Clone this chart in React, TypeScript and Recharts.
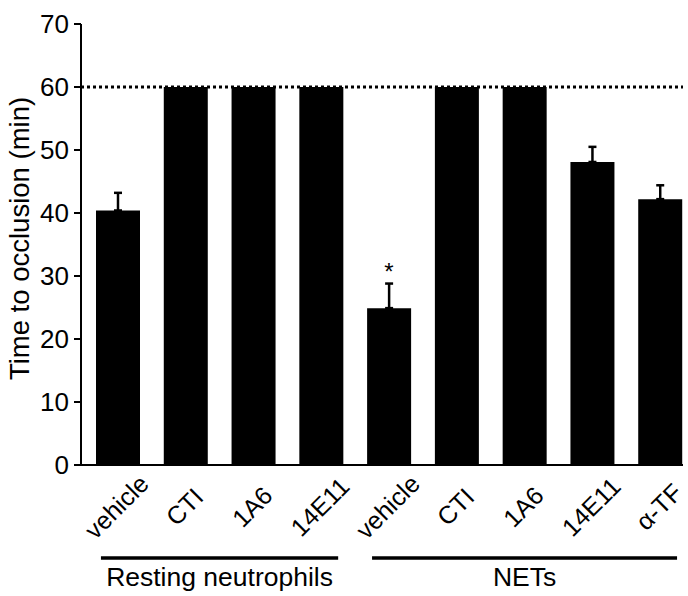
import React from 'react';
import { BarChart, Bar, XAxis, YAxis, ErrorBar, ReferenceLine, ReferenceDot } from 'recharts';

const keys = ['r-vehicle', 'r-CTI', 'r-1A6', 'r-14E11', 'n-vehicle', 'n-CTI', 'n-1A6', 'n-14E11', 'n-aTF'];
const tickLabels = ['vehicle', 'CTI', '1A6', '14E11', 'vehicle', 'CTI', '1A6', '14E11', 'α-TF'];
const means = [40.4, 60, 60, 60, 24.9, 60, 60, 48.1, 42.2];
const sems: (number | null)[] = [2.8, null, null, null, 3.9, null, null, 2.4, 2.2];
const yTicks = [0, 10, 20, 30, 40, 50, 60, 70];
const groups = [
  { label: 'Resting neutrophils', start: 0, count: 4 },
  { label: 'NETs', start: 4, count: 5 },
];
const cutoff = 60;
const sigIndex = 4;
const sigMark = '*';
const yLabel = 'Time to occlusion (min)';

const FONT = 'Liberation Sans, Arial, Helvetica, sans-serif';
const INK = '#000';

const data = keys.map((k, i) => ({
  key: k,
  mean: means[i],
  err: sems[i] == null ? null : [0, sems[i] as number],
}));

const XTick = (props: any) => {
  const { x, y, payload, index } = props;
  const i = payload?.index ?? index;
  const half = payload?.offset ?? 33.9;
  const band = half * 2;
  const lx = x + 5;
  const ly = y + 48;
  const g = groups.find((gr) => gr.start === i);
  let bracket = null;
  if (g) {
    const lastX = x + (g.count - 1) * band;
    const x1 = x - band * 0.25;
    const x2 = lastX + band * 0.25;
    const mid = (x + lastX) / 2;
    bracket = (
      <g>
        <line x1={x1} x2={x2} y1={y + 93} y2={y + 93} stroke={INK} strokeWidth={3.5} />
        <text x={mid} y={y + 121} textAnchor="middle" fontSize={26.5} fontFamily={FONT} fill={INK}>
          {g.label}
        </text>
      </g>
    );
  }
  return (
    <g>
      <text
        x={lx}
        y={ly}
        transform={`rotate(-45 ${lx} ${ly})`}
        textAnchor="middle"
        fontSize={25}
        fontFamily={FONT}
        fill={INK}
      >
        {tickLabels[i]}
      </text>
      {bracket}
    </g>
  );
};

const YLabel = (props: any) => {
  const vb = props.viewBox || { x: 0, y: 24, width: 81, height: 441 };
  const cx = vb.x + 29;
  const cy = vb.y + vb.height / 2 - 6;
  return (
    <text
      x={cx}
      y={cy}
      transform={`rotate(-90 ${cx} ${cy})`}
      textAnchor="middle"
      fontSize={27.5}
      fontFamily={FONT}
      fill={INK}
    >
      {yLabel}
    </text>
  );
};

export default function App() {
  return (
    <div style={{ position: 'absolute', left: 0, top: 0, width: 688, height: 596, background: '#fff', overflow: 'hidden' }}>
      <BarChart width={688} height={596} data={data} margin={{ top: 24, right: 5, left: 0, bottom: 0 }}>
        <XAxis
          dataKey="key"
          interval={0}
          height={131}
          tickLine={false}
          tickSize={0}
          tickMargin={0}
          padding={{ left: 3, right: -11 }}
          axisLine={{ stroke: INK, strokeWidth: 2 }}
          tick={<XTick />}
        />
        <YAxis
          domain={[0, 70]}
          ticks={yTicks}
          interval={0}
          width={81}
          tickSize={7}
          tickMargin={5}
          axisLine={{ stroke: INK, strokeWidth: 2 }}
          tickLine={{ stroke: INK, strokeWidth: 2 }}
          tick={{ fontSize: 26, fill: INK, fontFamily: FONT }}
          label={(p: any) => <YLabel {...p} />}
        />
        <ReferenceLine y={cutoff} stroke="#000" strokeWidth={3} strokeDasharray="3 3" />
        <Bar dataKey="mean" fill="#000" barSize={44} isAnimationActive={false}>
          <ErrorBar dataKey="err" width={4} strokeWidth={2.5} stroke="#000" direction="y" />
        </Bar>
        <ReferenceDot
          x={keys[sigIndex]}
          y={means[sigIndex] + (sems[sigIndex] as number)}
          r={0}
          fill="none"
          stroke="none"
          label={{ value: sigMark, position: 'top', offset: 4, fontSize: 24, fill: INK, fontFamily: FONT }}
        />
      </BarChart>
    </div>
  );
}
